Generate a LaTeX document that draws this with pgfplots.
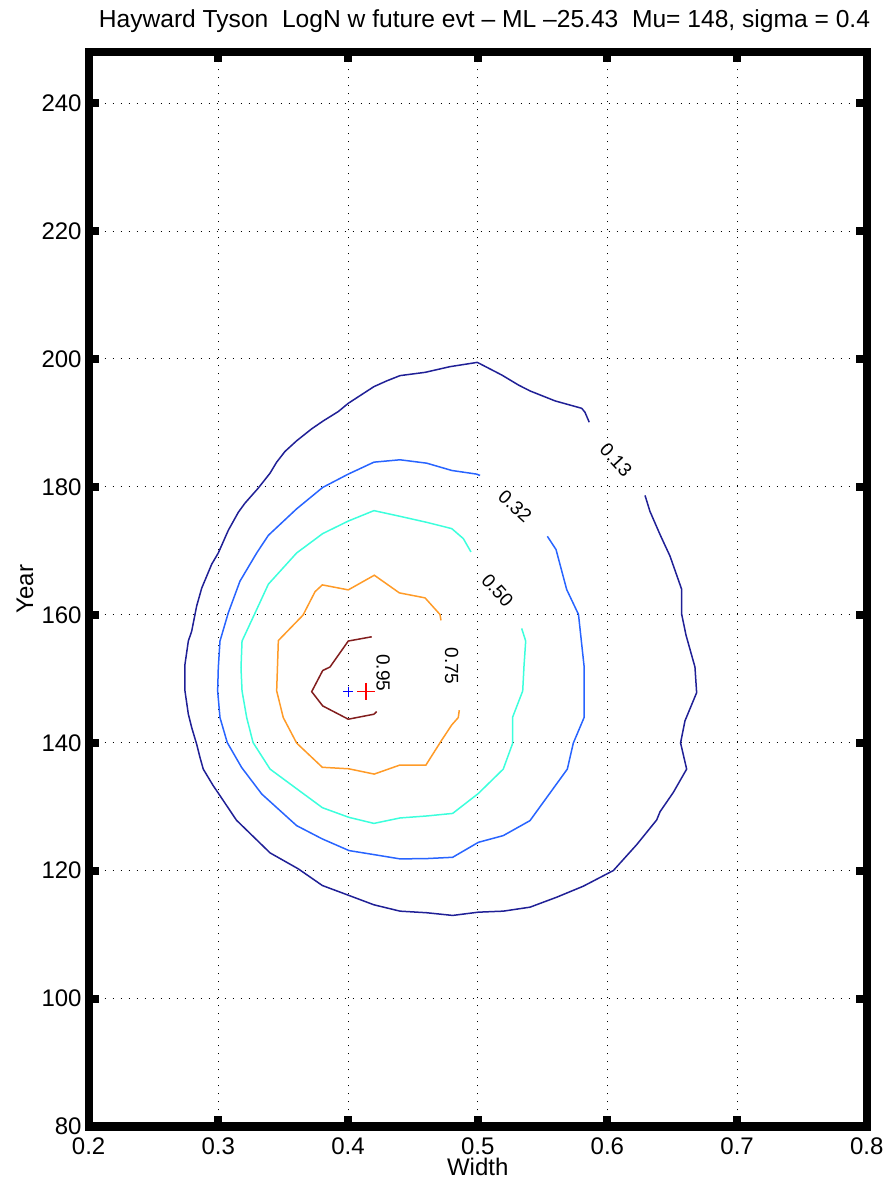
\documentclass[border=0pt]{standalone}
\usepackage{fontspec}
\setmainfont{Liberation Sans}
\usepackage{pgfplots}
\pgfplotsset{compat=1.18}
\definecolor{cA}{RGB}{32,32,150}
\definecolor{cB}{RGB}{40,100,255}
\definecolor{cC}{RGB}{60,255,220}
\definecolor{cD}{RGB}{255,155,40}
\definecolor{cE}{RGB}{130,30,30}
\begin{document}
\begin{tikzpicture}
\useasboundingbox (0,0) rectangle (442.5pt,590.5pt);
\begin{axis}[
  at={(44.3pt,27.25pt)}, anchor=south west,
  scale only axis, width=389.1pt, height=537.25pt,
  xmin=0.2, xmax=0.8, ymin=80, ymax=248,
  xtick={0.2,0.3,0.4,0.5,0.6,0.7,0.8},
  xticklabels={0.2,0.3,0.4,0.5,0.6,0.7,0.8},
  ytick={80,100,120,140,160,180,200,220,240},
  yticklabels={80,100,120,140,160,180,200,220,240},
  grid=major,
  major grid style={black, line width=0.5pt, dash pattern=on 0.5pt off 3.5pt},
  axis line style={line width=4pt, line join=miter},
  tick align=inside,
  major tick length=5.2pt,
  tick style={black, line width=4pt},
  xticklabel style={font=\fontsize{12}{14}\selectfont, anchor=center, yshift=-9.75pt},
  yticklabel style={font=\fontsize{12}{14}\selectfont, anchor=east, inner sep=0pt, xshift=-3.3pt},
  xlabel={Width},
  ylabel={Year},
  xlabel style={font=\fontsize{12}{14}\selectfont, at={(axis description cs:0.5,-0.0372)}, anchor=center},
  ylabel style={font=\fontsize{12}{14}\selectfont, at={(axis description cs:-0.0817,0.5)}, anchor=center},
  title={Hayward Tyson\ \ LogN w future evt – ML –25.43\ \ Mu= 148, sigma = 0.4},
  title style={font=\fontsize{12.3}{14}\selectfont, at={(axis description cs:0.5087,1.0177)}, anchor=center},
  clip=false,
]
% contour 0.13
\addplot[cA, line width=0.75pt, no marks] coordinates {
(0.5860,190.11) (0.5827,191.67) (0.5802,192.29) (0.5596,193.45) (0.5403,195.01)
(0.5313,195.94) (0.5185,197.50) (0.4997,199.47) (0.4786,198.80) (0.4594,197.91)
(0.4401,197.40) (0.4298,196.57) (0.4200,195.68) (0.4093,194.27) (0.4002,193.07)
(0.3925,191.78) (0.3810,190.33) (0.3720,189.08) (0.3604,187.21) (0.3514,185.54)
(0.3450,183.87) (0.3399,182.15) (0.3308,179.81) (0.3206,177.47) (0.3154,176.02)
(0.3077,173.21) (0.3000,169.67) (0.2949,167.91) (0.2872,164.17) (0.2833,161.36)
(0.2795,157.46) (0.2769,155.90) (0.2743,152.26) (0.2743,148.10) (0.2769,144.46)
(0.2795,142.37) (0.2833,139.78) (0.2859,137.69) (0.2884,135.88) (0.2961,133.28)
(0.2998,132.18) (0.3140,127.89) (0.3399,122.78) (0.3617,120.28) (0.3802,117.68)
(0.4008,116.12) (0.4200,114.66) (0.4401,113.67) (0.4607,113.42) (0.4807,113.00)
(0.5005,113.51) (0.5197,113.67) (0.5403,114.29) (0.5609,115.85) (0.5814,117.57)
(0.6046,120.02) (0.6226,124.07) (0.6380,127.93) (0.6406,129.22) (0.6508,132.23)
(0.6611,135.88) (0.6564,139.98) (0.6598,143.42) (0.6688,147.83) (0.6675,151.84)
(0.6606,156.83) (0.6573,160.06) (0.6573,163.96) (0.6483,169.16) (0.6406,172.54)
(0.6328,176.18) (0.6290,178.67)
};
% contour 0.32
\addplot[cB, line width=0.75pt, no marks] coordinates {
(0.5018,181.79) (0.4992,182.00) (0.4800,182.57) (0.4607,183.71) (0.4401,184.24)
(0.4200,183.87) (0.4002,182.00) (0.3805,179.92) (0.3604,176.57) (0.3386,172.43)
(0.3296,169.67) (0.3167,165.26) (0.3077,160.31) (0.3013,155.90) (0.3000,151.73)
(0.2995,148.10) (0.3013,143.93) (0.3069,140.03) (0.3180,136.13) (0.3335,131.98)
(0.3604,127.04) (0.3802,124.96) (0.4008,123.14) (0.4200,122.51) (0.4401,121.84)
(0.4607,121.89) (0.4807,122.09) (0.5005,124.43) (0.5197,125.48) (0.5403,127.82)
(0.5691,135.88) (0.5737,139.94) (0.5820,143.93) (0.5820,152.00) (0.5777,160.06)
(0.5686,163.96) (0.5604,170.20) (0.5537,172.28)
};
% contour 0.50
\addplot[cC, line width=0.75pt, no marks] coordinates {
(0.4948,169.83) (0.4889,171.92) (0.4800,173.48) (0.4607,174.46) (0.4401,175.40)
(0.4200,176.29) (0.4002,174.66) (0.3805,172.70) (0.3604,169.67) (0.3386,164.79)
(0.3308,161.36) (0.3183,155.90) (0.3175,151.73) (0.3183,148.10) (0.3219,143.93)
(0.3268,140.03) (0.3399,135.88) (0.3604,132.81) (0.3803,129.84) (0.4008,128.33)
(0.4200,127.39) (0.4401,128.24) (0.4607,128.55) (0.4807,128.95) (0.5005,132.07)
(0.5197,135.88) (0.5270,139.94) (0.5270,144.04) (0.5347,148.10) (0.5357,152.00)
(0.5370,155.90) (0.5339,157.88)
};
% contour 0.75
\addplot[cD, line width=0.75pt, no marks] coordinates {
(0.4717,159.13) (0.4709,160.06) (0.4594,162.65) (0.4396,163.43) (0.4203,166.19)
(0.4002,163.90) (0.3802,164.68) (0.3746,163.62) (0.3653,159.95) (0.3463,155.98)
(0.3450,148.10) (0.3501,143.93) (0.3604,139.95) (0.3802,136.16) (0.4005,135.93)
(0.4202,135.10) (0.4401,136.52) (0.4601,136.52) (0.4719,140.30) (0.4800,142.79)
(0.4850,143.93) (0.4858,145.09)
};
% contour 0.95
\addplot[cE, line width=0.75pt, no marks] coordinates {
(0.4183,156.57) (0.4002,155.90) (0.3861,151.84) (0.3805,151.29) (0.3720,147.99)
(0.3805,145.76) (0.4002,143.68) (0.4200,144.46) (0.4221,144.87)
};
% markers
\addplot[only marks, mark=+, blue, mark size=2.5pt, mark options={line width=0.5pt}] coordinates {(0.4002,148.0)};
\addplot[only marks, mark=+, red, mark size=4.4pt, mark options={line width=0.6pt}] coordinates {(0.4139,148.0)};
% contour labels
\node[rotate=-47, font=\fontsize{9.5}{10}\selectfont] at (axis cs:0.6066,184.24) {0.13};
\node[rotate=-42, font=\fontsize{9.5}{10}\selectfont] at (axis cs:0.5288,176.96) {0.32};
\node[rotate=-48, font=\fontsize{9.5}{10}\selectfont] at (axis cs:0.5153,163.82) {0.50};
\node[rotate=-90, font=\fontsize{9.5}{10}\selectfont] at (axis cs:0.4800,152.00) {0.75};
\node[rotate=-90, font=\fontsize{9.5}{10}\selectfont] at (axis cs:0.4272,150.95) {0.95};
\end{axis}
\end{tikzpicture}
\end{document}
